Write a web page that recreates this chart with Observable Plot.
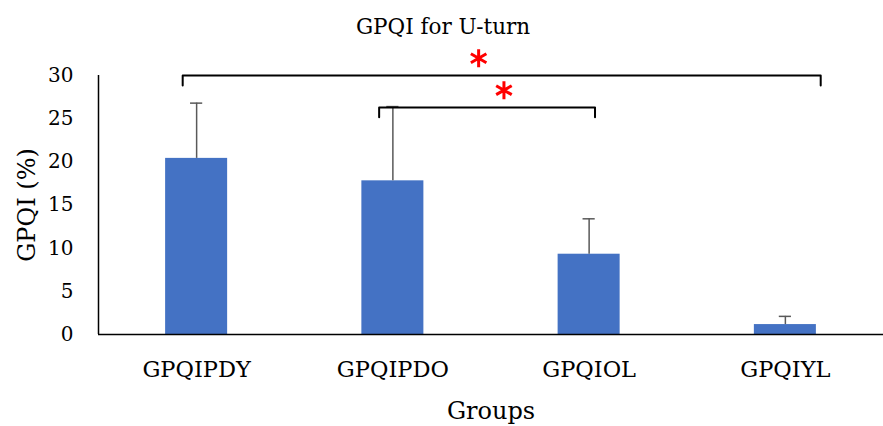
<!DOCTYPE html>
<html>
<head>
<meta charset="utf-8">
<script src="https://cdn.jsdelivr.net/npm/d3@7"></script>
<script src="https://cdn.jsdelivr.net/npm/@observablehq/plot@0.6"></script>
<style>
  body { margin: 0; background: #fff; }
  svg { display: block; }
</style>
</head>
<body>
<div id="chart"></div>
<script>
const groups = ["GPQIPDY", "GPQIPDO", "GPQIOL", "GPQIYL"];
const means = [20.4, 17.8, 9.3, 1.15];
const errors = [6.4, 8.6, 4.1, 0.95];
const yTicks = [0, 5, 10, 15, 20, 25, 30];
const compFrom = [0, 1];
const compTo = [3, 2];
const compLevel = [30, 26.3];
const title = "GPQI for U-turn";
const yLabel = "GPQI (%)";
const xLabel = "Groups";

const data = groups.map((g, i) => ({i, g, mean: means[i], err: errors[i]}));

const halfBar = 0.158;
const halfCap = 0.031;
const tickDrop = 1.15;
// bracket end offsets (in group units) as drawn in the original
const leftOff = [-0.071, -0.07];
const rightOff = [0.18, 0.03];

const bracketPts = [];
compFrom.forEach((f, k) => {
  const a = f + leftOff[k], b = compTo[k] + rightOff[k], lv = compLevel[k];
  bracketPts.push({k, x: a, y: lv - tickDrop}, {k, x: a, y: lv}, {k, x: b, y: lv}, {k, x: b, y: lv - tickDrop});
});
const stars = compFrom.map((f, k) => ({x: (f + compTo[k]) / 2 + [-0.063, 0.066][k], y: compLevel[k] + [2.0, 2.0][k]}));

const font = "'DejaVu Serif', 'Liberation Serif', serif";

const chart = Plot.plot({
  width: 883,
  height: 426,
  marginLeft: 98,
  marginRight: 0,
  marginTop: 75,
  marginBottom: 92,
  style: {fontFamily: font, fontSize: "20px", color: "#000", background: "#fff"},
  x: {type: "linear", domain: [-0.5, 3.5]},
  y: {domain: [0, 30]},
  marks: [
    Plot.rectY(data, {x1: d => d.i - halfBar, x2: d => d.i + halfBar, y1: 0, y2: "mean", fill: "#4472C4"}),
    Plot.ruleX(data, {x: "i", y1: "mean", y2: d => d.mean + d.err, stroke: "#595959", strokeWidth: 1.5}),
    Plot.ruleY(data, {y: d => d.mean + d.err, x1: d => d.i - halfCap, x2: d => d.i + halfCap, stroke: "#595959", strokeWidth: 1.5}),
    Plot.ruleY([0], {stroke: "#000", strokeWidth: 1.5}),
    Plot.ruleX([-0.5], {y1: 0, y2: 30, stroke: "#000", strokeWidth: 1.5}),
    Plot.axisY({ticks: yTicks, tickSize: 0, tickPadding: 25, label: null, fontSize: 20}),
    Plot.axisX({ticks: [0, 1, 2, 3], tickFormat: i => groups[i], tickSize: 0, tickPadding: 27, label: null, fontSize: 22.5}),
    Plot.line(bracketPts, {x: "x", y: "y", z: "k", stroke: "#000", strokeWidth: 2, clip: false}),
    Plot.dot(stars, {x: "x", y: "y", symbol: "asterisk", r: 8.5, stroke: "#ff0000", strokeWidth: 3}),
    Plot.text([title], {frameAnchor: "top", lineAnchor: "middle", dx: -48, dy: -48, fontSize: 21.5, fill: "#000"}),
    Plot.text([yLabel], {frameAnchor: "left", textAnchor: "middle", lineAnchor: "middle", dx: -71, rotate: -90, fontSize: 24, fill: "#000"}),
    Plot.text([xLabel], {frameAnchor: "bottom", lineAnchor: "middle", dy: 77, fontSize: 24, fill: "#000"})
  ]
});
document.getElementById("chart").appendChild(chart);
</script>
</body>
</html>
